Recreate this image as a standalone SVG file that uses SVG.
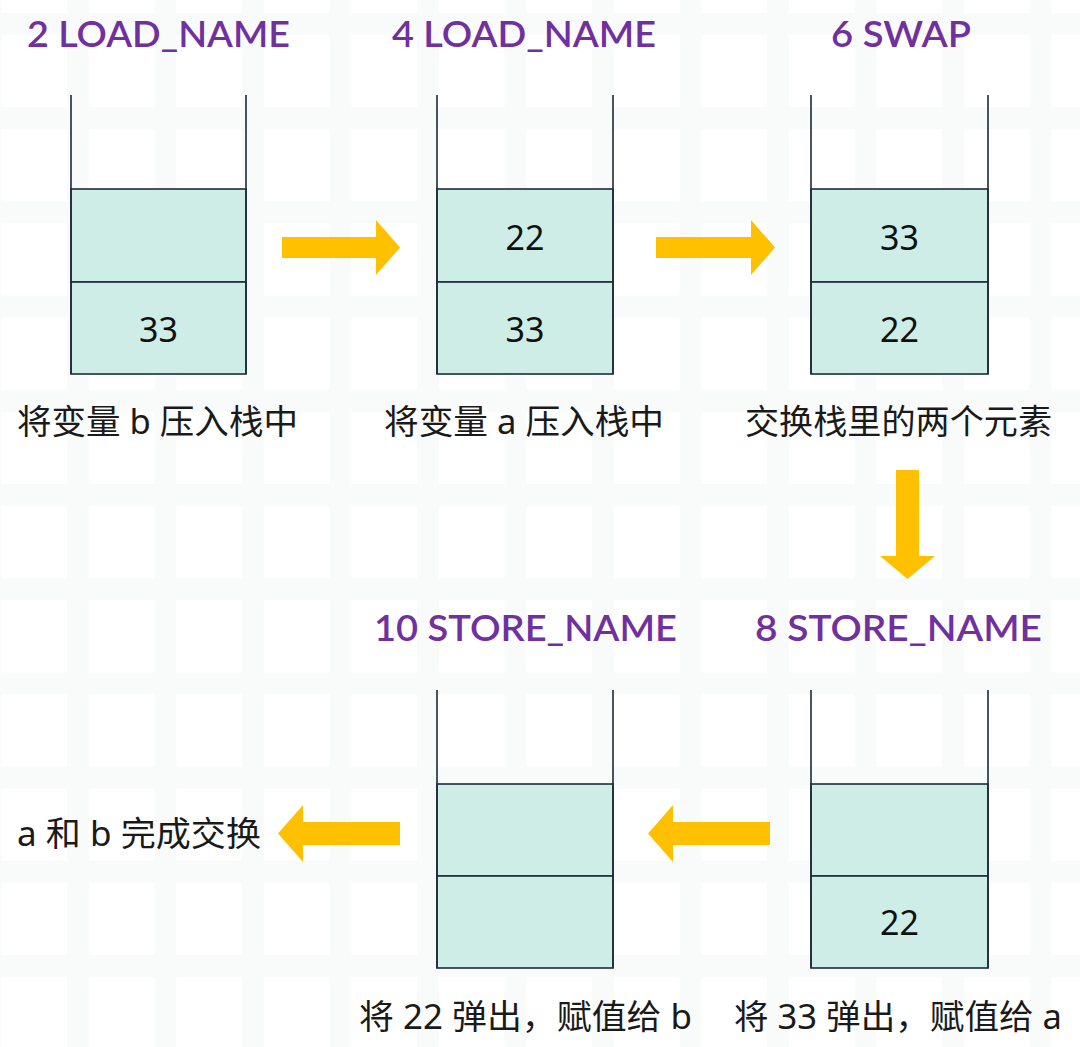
<svg xmlns="http://www.w3.org/2000/svg" width="1080" height="1047" viewBox="0 0 1080 1047">
  <defs>
    <pattern id="grid" x="67" y="13" width="87.5" height="94.2" patternUnits="userSpaceOnUse">
      <rect x="0" y="0" width="22" height="94.2" fill="#f9fafa"/>
      <rect x="0" y="0" width="87.5" height="22" fill="#f9fafa"/>
    </pattern>
    <style>
      .wall { fill: none; stroke: #1f2b3a; stroke-width: 1.6; }
      .cell { fill: #cdede6; stroke: #1f2b3a; stroke-width: 1.6; }
      .num { font-family: "Noto Sans", "Roboto", sans-serif; font-size: 34px; fill: #111111; text-anchor: middle; }
      .title { font-family: "Comic Sans MS", "Lato", "Noto Sans", sans-serif; font-size: 36px; font-weight: 600; fill: #7030a0; }
      .label { font-family: "Noto Sans", "Noto Sans CJK SC", sans-serif; font-size: 34px; fill: #1a1a1a; }
      .arrow { fill: #ffc000; }
    </style>
  </defs>
  <rect width="1080" height="1047" fill="#ffffff"/>
  <rect width="1080" height="1047" fill="url(#grid)"/>

  <g id="step2">
    <text class="title" x="27" y="47" textLength="263" lengthAdjust="spacingAndGlyphs">2 LOAD_NAME</text>
    <rect class="cell" x="71" y="189" width="175" height="93"/>
    <rect class="cell" x="71" y="282" width="175" height="92"/>
    <path class="wall" d="M71 95 V374 M246 95 V374"/>
    <text class="num" x="158.5" y="342">33</text>
    <text class="label" x="17" y="434" textLength="281" lengthAdjust="spacingAndGlyphs">将变量 b 压入栈中</text>
  </g>

  <g id="step4">
    <text class="title" x="392" y="47" textLength="264" lengthAdjust="spacingAndGlyphs">4 LOAD_NAME</text>
    <rect class="cell" x="437" y="189" width="176" height="93"/>
    <rect class="cell" x="437" y="282" width="176" height="92"/>
    <path class="wall" d="M437 95 V374 M613 95 V374"/>
    <text class="num" x="525" y="250">22</text>
    <text class="num" x="525" y="342">33</text>
    <text class="label" x="384" y="434" textLength="280" lengthAdjust="spacingAndGlyphs">将变量 a 压入栈中</text>
  </g>

  <g id="step6">
    <text class="title" x="831" y="47" textLength="140" lengthAdjust="spacingAndGlyphs">6 SWAP</text>
    <rect class="cell" x="811" y="189" width="177" height="93"/>
    <rect class="cell" x="811" y="282" width="177" height="92"/>
    <path class="wall" d="M811 95 V374 M988 95 V374"/>
    <text class="num" x="899.5" y="250">33</text>
    <text class="num" x="899.5" y="342">22</text>
    <text class="label" x="745" y="434" textLength="307" lengthAdjust="spacingAndGlyphs">交换栈里的两个元素</text>
  </g>

  <g id="step8">
    <text class="title" x="755" y="641" textLength="287" lengthAdjust="spacingAndGlyphs">8 STORE_NAME</text>
    <rect class="cell" x="811" y="784" width="177" height="92"/>
    <rect class="cell" x="811" y="876" width="177" height="92"/>
    <path class="wall" d="M811 690 V968 M988 690 V968"/>
    <text class="num" x="899.5" y="935">22</text>
    <text class="label" x="734" y="1029" textLength="328" lengthAdjust="spacingAndGlyphs">将 33 弹出，赋值给 a</text>
  </g>

  <g id="step10">
    <text class="title" x="374" y="641" textLength="303" lengthAdjust="spacingAndGlyphs">10 STORE_NAME</text>
    <rect class="cell" x="437" y="784" width="176" height="92"/>
    <rect class="cell" x="437" y="876" width="176" height="92"/>
    <path class="wall" d="M437 690 V968 M613 690 V968"/>
    <text class="label" x="359" y="1029" textLength="333" lengthAdjust="spacingAndGlyphs">将 22 弹出，赋值给 b</text>
  </g>

  <g id="result">
    <text class="label" x="17" y="846" textLength="244" lengthAdjust="spacingAndGlyphs">a 和 b 完成交换</text>
  </g>

  <g id="connectors">
    <path class="arrow" d="M282 237 H376 V220 L400 247.5 L376 275 V258 H282 Z"/>
    <path class="arrow" d="M656 237 H751 V220 L775 247.5 L751 275 V258 H656 Z"/>
    <path class="arrow" d="M896 470 H919 V556 H935 L907.5 579 L880 556 H896 Z"/>
    <path class="arrow" d="M770 822 H673 V805 L648 833.5 L673 862 V845 H770 Z"/>
    <path class="arrow" d="M400 822 H303 V805 L278 833.5 L303 862 V845 H400 Z"/>
  </g>
</svg>
